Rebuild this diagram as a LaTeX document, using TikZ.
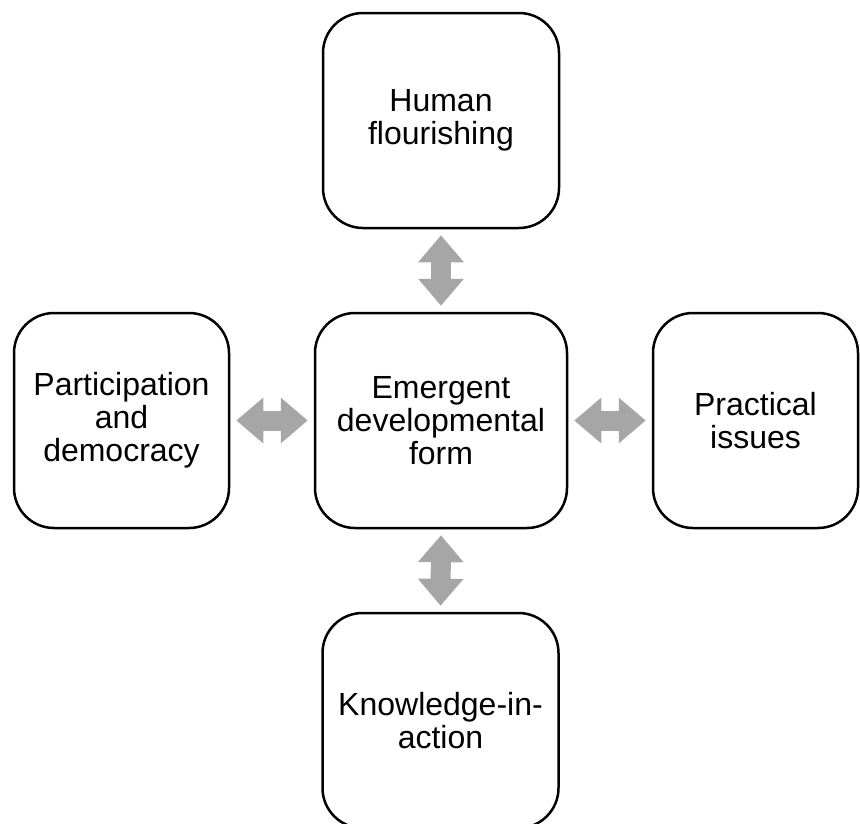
\documentclass[tikz,border=0pt]{standalone}
\usepackage{fontspec}
\setmainfont{Liberation Sans}
\usetikzlibrary{arrows.meta}

\definecolor{arrowgray}{RGB}{166,166,166}

\tikzset{
    box/.style={draw, line width=2.5pt, rounded corners=40pt, align=center,
        font=\fontsize{32}{33}\selectfont},
    link/.style={draw=arrowgray, line width=20pt,
        {Triangle[length=27pt,width=44pt]}-{Triangle[length=27pt,width=44pt]},
        shorten <=6pt, shorten >=6pt}
}

\begin{document}
\begin{tikzpicture}[x=1pt,y=-1pt]
    \useasboundingbox (0,0) rectangle (860,823);

    % Boxes
    \node[box, minimum width=236pt, minimum height=215pt] (flourish) at (441,120.5) {Human\\flourishing};
    \node[box, minimum width=252pt, minimum height=215pt] (emergent) at (441,420.5) {Emergent\\developmental\\form};
    \node[box, minimum width=215pt, minimum height=215pt] (particip) at (121.5,420.5) {Participation\\and\\democracy};
    \node[box, minimum width=205pt, minimum height=215pt] (practical) at (755.5,420.5) {Practical\\issues};
    \node[box, minimum width=236pt, minimum height=215pt] (knowledge) at (440.5,720.5) {Knowledge-in-\\action};

    % Double arrows
    \draw[link] (flourish.south) -- (emergent.north);
    \draw[link] (particip.east) -- (emergent.west);
    \draw[link] (emergent.east) -- (practical.west);
    \draw[link] (emergent.south) -- (knowledge.north);

\end{tikzpicture}
\end{document}
